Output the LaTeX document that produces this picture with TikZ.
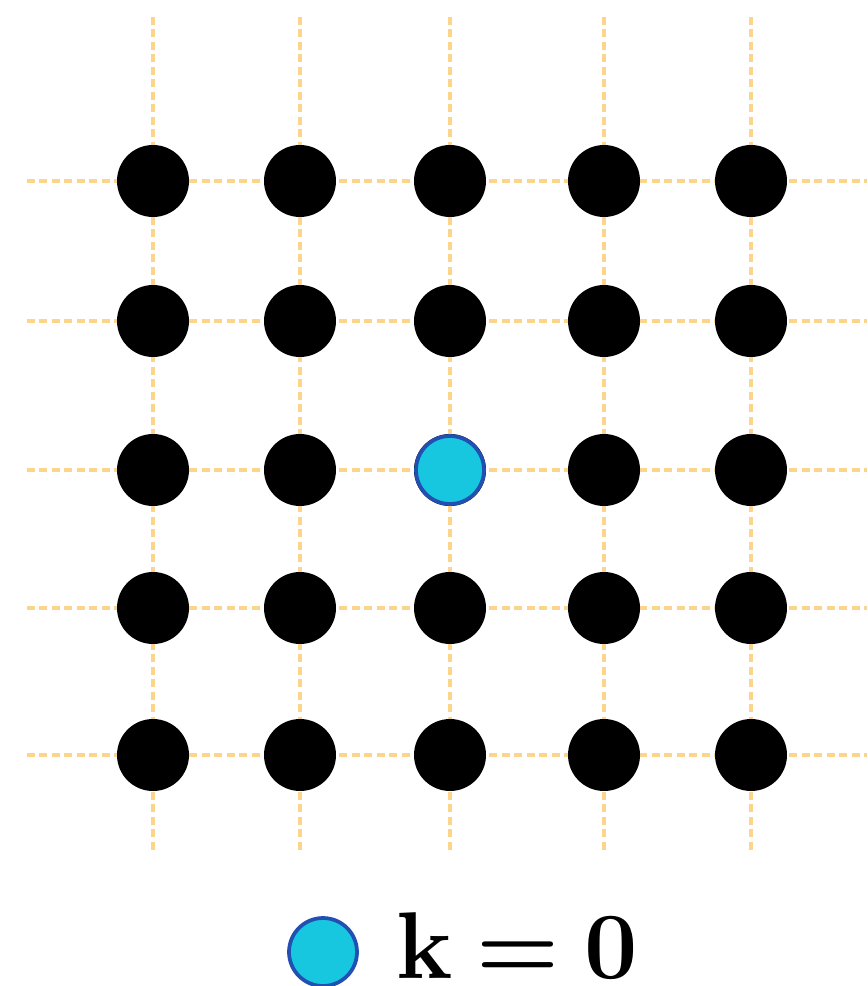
\RequirePackage{fix-cm}
\documentclass[tikz,border=0pt]{standalone}
\usepackage{amsmath,amssymb}
\usepackage{xcolor}
\usepackage{tikz}
\usetikzlibrary{positioning}

\definecolor{gridorange}{HTML}{FDD48C}
\definecolor{gammacyan}{HTML}{17C6DF}
\definecolor{gammablue}{HTML}{2250B2}

\begin{document}
\begin{tikzpicture}[
    x=0.02cm, y=-0.02cm,
    gridline/.style={gridorange, line width=0.08cm, dash pattern=on 0.16cm off 0.09cm},
    atom/.style={circle, fill=black, minimum size=1.44cm, inner sep=0pt},
    gammapt/.style={circle, fill=gammacyan, draw=gammablue, line width=0.075cm, minimum size=1.36cm, inner sep=0pt}
]
\useasboundingbox (0,0) rectangle (867,986);

% lattice lines
\foreach \c/\px in {1/153, 2/300, 3/450, 4/604, 5/751} {
    \coordinate (top\c) at (\px,17);
    \coordinate (bot\c) at (\px,852);
    \draw[gridline] (top\c) -- (bot\c);
}
\foreach \r/\py in {1/181, 2/321, 3/470, 4/608, 5/755} {
    \coordinate (left\r) at (27,\py);
    \coordinate (right\r) at (867,\py);
    \draw[gridline] (left\r) -- (right\r);
}

% lattice points
\foreach \c/\px in {1/153, 2/300, 3/450, 4/604, 5/751} {
    \foreach \r/\py in {1/181, 2/321, 3/470, 4/608, 5/755} {
        \node[atom] (p\c\r) at (\px,\py) {};
    }
}
\node[gammapt] (gamma) at (p33) {};

% legend
\node[gammapt] (key) at (323,952) {};
\node[anchor=base west, inner sep=0pt, font=\fontsize{54}{60}\selectfont\boldmath] (keytext) at (396,978) {$\mathbf{k}\mkern4mu{=}\mkern4mu\mathbf{0}$};
\end{tikzpicture}
\end{document}
